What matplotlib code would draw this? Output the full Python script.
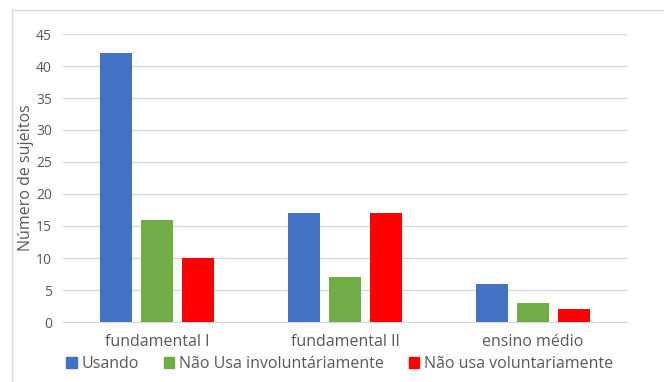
import matplotlib.pyplot as plt
import matplotlib.patches as mpatches
import numpy as np

categories = ["fundamental I", "fundamental II", "ensino médio"]
series_names = ["Usando", "Não Usa involuntáriamente", "Não usa voluntariamente"]
usando = [42, 17, 6]
involuntario = [16, 7, 3]
voluntario = [10, 17, 2]
colors = ["#4472C4", "#70AD47", "#FF0000"]
yticks = [0, 5, 10, 15, 20, 25, 30, 35, 40, 45]

plt.rcParams['font.family'] = ['Open Sans', 'DejaVu Sans']

fig = plt.figure(figsize=(6.64, 3.82), dpi=100)
ax = fig.add_axes([63/664, 1 - 322/382, (627 - 63)/664, (322 - 34)/382])

# outer chart frame (left and top edges visible)
fig.add_artist(plt.Line2D([12/664, 12/664], [0, 1 - 10/382], transform=fig.transFigure,
                          color="#d9d9d9", lw=1))
fig.add_artist(plt.Line2D([12/664, 1], [1 - 10/382, 1 - 10/382], transform=fig.transFigure,
                          color="#d9d9d9", lw=1))

x = np.arange(len(categories))
width = 0.17
step = 0.22
for i, (vals, c, name) in enumerate(zip([usando, involuntario, voluntario], colors, series_names)):
    ax.bar(x + (i - 1) * step, vals, width, color=c, label=name, zorder=3)

ax.set_xlim(-0.5, 2.5)
ax.set_ylim(0, 45)
ax.set_yticks(yticks)
ax.grid(axis="y", color="#d9d9d9", lw=1, zorder=0)
for s in ["top", "right", "left"]:
    ax.spines[s].set_visible(False)
ax.spines["bottom"].set_color("#d9d9d9")
ax.tick_params(axis="both", length=0, colors="#595959")
ax.tick_params(axis="y", labelsize=10, pad=8)
ax.tick_params(axis="x", labelsize=11.5, pad=9)
ax.set_xticks(x)
ax.set_xticklabels(categories)
ax.set_ylabel("Número de sujeitos", color="#595959", fontsize=11.5)
ax.yaxis.set_label_coords(-0.052, 0.5)

handles = [mpatches.Patch(color=c) for c in colors]
leg = fig.legend(handles, series_names, loc="lower left", bbox_to_anchor=(60/664, 0.01),
                 ncol=3, frameon=False, fontsize=11.5, handlelength=0.65, handleheight=0.65,
                 handletextpad=0.3, columnspacing=1.55, borderaxespad=0)
for t in leg.get_texts():
    t.set_color("#595959")

fig.savefig("out.png", dpi=100)
